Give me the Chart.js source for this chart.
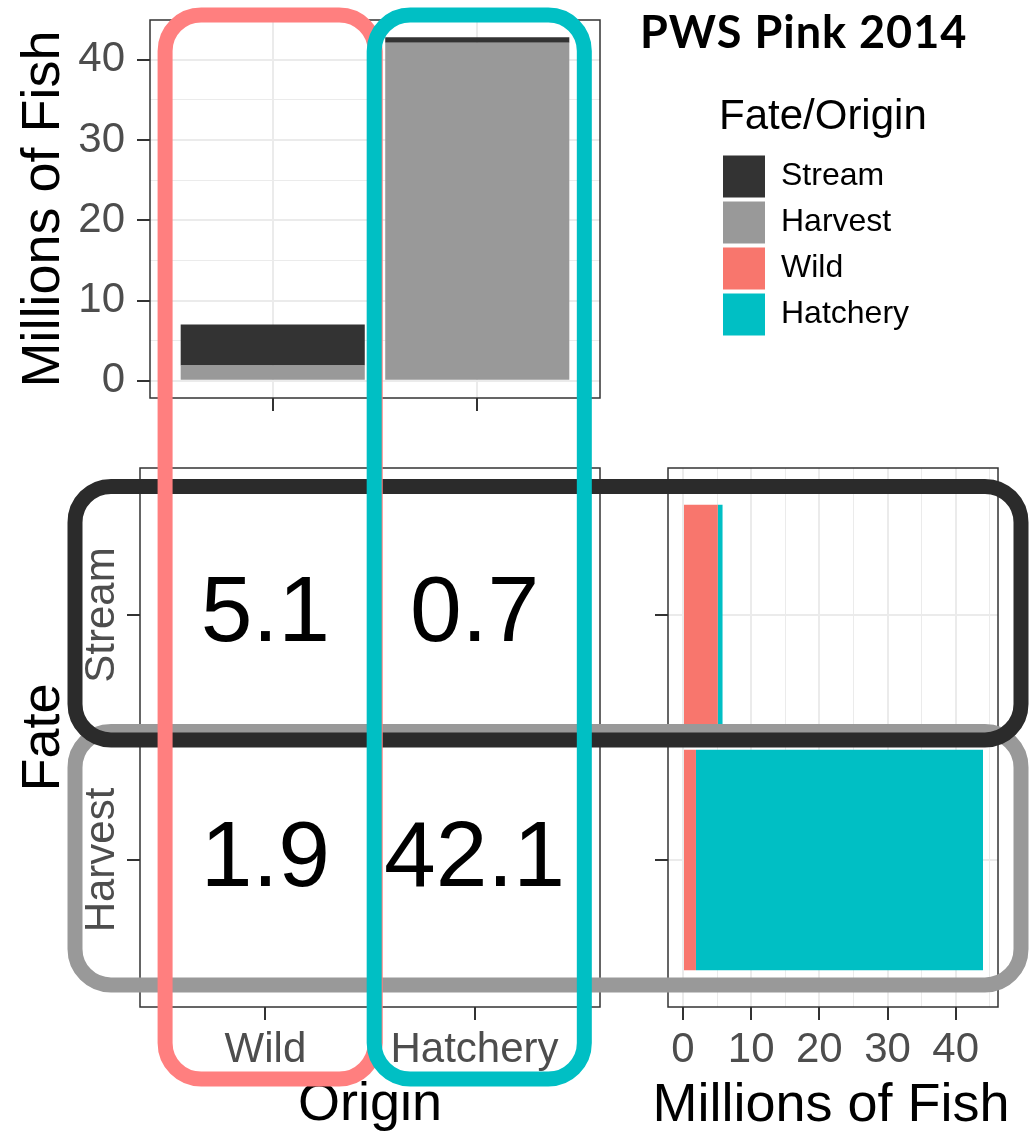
<!DOCTYPE html>
<html>
<head>
<meta charset="utf-8">
<title>PWS Pink 2014</title>
<script src="https://cdn.jsdelivr.net/npm/chart.js@4.4.1/dist/chart.umd.min.js"></script>
<style>
  html, body { margin: 0; padding: 0; background: #fff; }
  #wrap { position: relative; width: 1029px; height: 1133px; overflow: hidden; }
  #wrap canvas { position: absolute; left: 0; top: 0; }
  #mainTitle { position: absolute; left: 640px; top: 9px; font: bold 45px Lato, 'Open Sans', sans-serif; letter-spacing: 1px; line-height: 1; white-space: nowrap; color: #000; }
</style>
</head>
<body>
<div id="wrap">
  <canvas id="legendChart" width="1029" height="1133"></canvas>
  <canvas id="topChart" width="1029" height="1133"></canvas>
  <canvas id="matrixChart" width="1029" height="1133"></canvas>
  <canvas id="sideChart" width="1029" height="1133"></canvas>
  <canvas id="overlay" width="1029" height="1133"></canvas>
  <div id="mainTitle">PWS Pink 2014</div>
</div>
<script>
// values (millions of fish)
const origins = ['Wild', 'Hatchery'];
const fates = ['Stream', 'Harvest'];
const wildByFate = [5.1, 1.9];
const hatcheryByFate = [0.7, 42.1];
const countTicks = [0, 10, 20, 30, 40];
const minorTicks = [5, 15, 25, 35, 45];

const fateColors = ['#333333', '#999999'];
const originColors = ['#F8766D', '#00BFC4'];
const fateRingColors = ['#2b2b2b', '#999999'];
const originRingColors = ['#ff7f7f', '#00bfc4'];

const FONT = "'Liberation Sans', Arial, sans-serif";
const GRID = '#ebebeb';
const INK = '#333333';
const TICK_TEXT = '#4d4d4d';
const W = 1029, H = 1133;

Chart.defaults.font.family = FONT;
Chart.defaults.animation = false;
Chart.defaults.responsive = false;
Chart.defaults.devicePixelRatio = 1;
Chart.defaults.events = [];
Chart.defaults.plugins.legend.display = false;
Chart.defaults.plugins.tooltip.enabled = false;

const byOrigin = [wildByFate, hatcheryByFate];
const fatePos = j => fates.length - j;   // Stream on top, Harvest below
const sum = a => a.reduce((s, v) => s + v, 0);

const originTotals = byOrigin.map(sum);
const fateTotals = fates.map((f, j) => sum(byOrigin.map(o => o[j])));
const topMax = Math.max(...originTotals);
const sideMax = Math.max(...fateTotals);

const isMajor = v => countTicks.includes(v);
const discreteTicks = n => ax => { ax.ticks = Array.from({ length: n }, (_, i) => ({ value: i + 1 })); };
const countTickBuilder = ax => {
  ax.ticks = countTicks.concat(minorTicks)
    .filter(v => v >= ax.min && v <= ax.max)
    .sort((a, b) => a - b)
    .map(v => ({ value: v }));
};
// fixed axis size, and no extra room asked for overhanging labels
const fixWidth = w => ax => { ax.width = w; ax.paddingTop = 0; ax.paddingBottom = 0; };
const fixHeight = h => ax => { ax.height = h; ax.paddingLeft = 0; ax.paddingRight = 0; };

function countGrid(onArea) {
  return {
    drawOnChartArea: onArea,
    color: GRID,
    lineWidth: c => (c.tick && isMajor(c.tick.value) ? 2 : 1),
    tickLength: 13,
    tickWidth: 2,
    tickColor: c => (c.tick && isMajor(c.tick.value) ? INK : 'rgba(0,0,0,0)')
  };
}
function discreteGrid(onArea) {
  return { drawOnChartArea: onArea, offset: false, color: GRID, lineWidth: 2, tickLength: 13, tickWidth: 2, tickColor: INK };
}
const tickFont = { size: 42 };
const titleFont = { size: 54 };

const panelBorder = {
  id: 'panelBorder',
  afterDraw(chart) {
    const { ctx, chartArea: a } = chart;
    ctx.save();
    ctx.strokeStyle = INK;
    ctx.lineWidth = 1.5;
    ctx.strokeRect(a.left, a.top, a.right - a.left, a.bottom - a.top);
    ctx.restore();
  }
};

// top: stacked bars by origin
const topChart = new Chart(document.getElementById('topChart'), {
  type: 'bar',
  data: {
    datasets: fates.map((fate, f) => ({
      label: fate,
      data: origins.map((o, i) => ({ x: i + 1, y: byOrigin[i][f] })),
      backgroundColor: fateColors[f],
      borderWidth: 0,
      stack: 'all',
      barPercentage: 0.9,
      categoryPercentage: 1
    })).reverse()
  },
  options: {
    layout: { padding: { left: 0, top: 20, right: W - 600, bottom: H - 398 - 20 } },
    scales: {
      x: {
        type: 'linear', offset: false, min: 0.4, max: origins.length + 0.6, bounds: 'data',
        afterBuildTicks: discreteTicks(origins.length),
        afterFit: fixHeight(20),
        ticks: { display: false },
        grid: discreteGrid(true),
        border: { display: false }
      },
      y: {
        type: 'linear', stacked: true, min: -0.05 * topMax, max: 1.05 * topMax, bounds: 'data',
        afterBuildTicks: countTickBuilder,
        afterFit: fixWidth(150),
        ticks: { autoSkip: false, padding: 12, color: TICK_TEXT, font: tickFont, callback: v => (isMajor(v) ? String(v) : '') },
        grid: countGrid(true),
        border: { display: false },
        title: { display: true, text: 'Millions of Fish', color: '#000', font: titleFont, padding: { top: 12, bottom: 0 } }
      }
    }
  },
  plugins: [panelBorder]
});

// middle: value table origin x fate
const cellText = {
  id: 'cellText',
  afterDatasetsDraw(chart) {
    const ctx = chart.ctx;
    const ds = chart.data.datasets[0];
    ctx.save();
    ctx.font = '93px ' + FONT;
    ctx.fillStyle = '#000';
    ctx.textAlign = 'center';
    ctx.textBaseline = 'middle';
    chart.getDatasetMeta(0).data.forEach((pt, k) => {
      ctx.fillText(ds.data[k].v.toFixed(1), pt.x, pt.y);
    });
    ctx.restore();
  }
};

const cells = [];
origins.forEach((o, i) => fates.forEach((f, j) => cells.push({ x: i + 1, y: fatePos(j), v: byOrigin[i][j] })));

const matrixChart = new Chart(document.getElementById('matrixChart'), {
  type: 'scatter',
  data: { datasets: [{ data: cells, pointRadius: 0 }] },
  options: {
    layout: { padding: { left: 0, top: 468, right: W - 600, bottom: 0 } },
    scales: {
      x: {
        type: 'linear', min: 0.4, max: origins.length + 0.6, bounds: 'data',
        afterBuildTicks: discreteTicks(origins.length),
        afterFit: fixHeight(H - 1007),
        ticks: { autoSkip: false, padding: 5, color: TICK_TEXT, font: tickFont, callback: v => origins[v - 1] },
        grid: discreteGrid(false),
        border: { display: false },
        title: { display: true, text: 'Origin', color: '#000', font: titleFont, padding: { top: 0, bottom: -5 } }
      },
      y: {
        type: 'linear', min: 0.4, max: fates.length + 0.6, bounds: 'data',
        afterBuildTicks: discreteTicks(fates.length),
        afterFit: fixWidth(140),
        ticks: { autoSkip: false, minRotation: 90, maxRotation: 90, crossAlign: 'center', padding: -48, color: TICK_TEXT, font: tickFont, callback: v => fates[fates.length - v] },
        grid: discreteGrid(false),
        border: { display: false },
        title: { display: true, text: 'Fate', color: '#000', font: titleFont, padding: { top: 12, bottom: 0 } }
      }
    }
  },
  plugins: [panelBorder, cellText]
});

// right: stacked horizontal bars by fate
const sideTitleHeight = titleFont.size * 1.2 - 5.4;
const sideChart = new Chart(document.getElementById('sideChart'), {
  type: 'bar',
  data: {
    datasets: origins.map((o, i) => ({
      label: o,
      data: fates.map((f, j) => ({ x: byOrigin[i][j], y: fatePos(j) })),
      backgroundColor: originColors[i],
      borderWidth: 0,
      stack: 'all',
      yAxisID: 'y',
      barPercentage: 0.9,
      categoryPercentage: 1
    }))
  },
  options: {
    indexAxis: 'y',
    layout: { padding: { left: 633, top: 468, right: 0, bottom: 0 } },
    scales: {
      x: {
        type: 'linear', stacked: true, min: -0.05 * sideMax, max: 1.05 * sideMax, bounds: 'data',
        afterBuildTicks: countTickBuilder,
        afterFit: fixHeight(H - 1007 - sideTitleHeight),
        ticks: { autoSkip: false, maxRotation: 0, padding: 5, color: TICK_TEXT, font: tickFont, callback: v => (isMajor(v) ? String(v) : '') },
        grid: countGrid(true),
        border: { display: false }
      },
      y: {
        type: 'linear', offset: false, min: 0.4, max: fates.length + 0.6, bounds: 'data',
        afterBuildTicks: discreteTicks(fates.length),
        afterFit: fixWidth(35),
        ticks: { display: false },
        grid: discreteGrid(true),
        border: { display: false }
      },
      yRight: {
        axis: 'y', type: 'linear', position: 'right',
        afterFit: fixWidth(31),
        ticks: { display: false },
        grid: { display: false },
        border: { display: false }
      }
    },
    plugins: {
      title: { display: true, position: 'bottom', fullSize: true, text: 'Millions of Fish', color: '#000', font: { size: titleFont.size, weight: 'normal' }, padding: { top: 0, bottom: -5.4 } }
    }
  },
  plugins: [panelBorder]
});

// legend (fill colours of both fate and origin)
new Chart(document.getElementById('legendChart'), {
  type: 'bar',
  data: {
    labels: [],
    datasets: fates.map((f, i) => ({ label: f, data: [], backgroundColor: fateColors[i], borderWidth: 0 }))
      .concat(origins.map((o, i) => ({ label: o, data: [], backgroundColor: originColors[i], borderWidth: 0 })))
  },
  options: {
    layout: { padding: { left: 719, top: 91, right: W - 719 - 230, bottom: 0 } },
    scales: { x: { display: false }, y: { display: false } },
    plugins: {
      legend: {
        display: true, position: 'top', align: 'start',
        title: { display: true, text: 'Fate/Origin', color: '#000', font: { size: 42 }, padding: { top: 5, bottom: 5 }, position: 'start' },
        labels: { boxWidth: 42, boxHeight: 42, padding: 4, color: '#000', font: { size: 32 } }
      }
    }
  }
});

// highlight rings around rows and columns
const ov = document.getElementById('overlay').getContext('2d');
function ring(x0, y0, x1, y1, color) {
  ov.beginPath();
  ov.roundRect(x0, y0, x1 - x0, y1 - y0, 36);
  ov.strokeStyle = color;
  ov.lineWidth = 15;
  ov.stroke();
}
const mx = matrixChart.scales.x, my = matrixChart.scales.y;
const colTop = topChart.chartArea.top - 5;
const colBottom = matrixChart.chartArea.bottom + 72;
const rowLeft = matrixChart.chartArea.left - 65;
const rowRight = sideChart.chartArea.right + 23;
for (let j = fates.length - 1; j >= 0; j--) {
  ring(rowLeft, my.getPixelForValue(fatePos(j) + 0.525), rowRight, my.getPixelForValue(fatePos(j) - 0.51), fateRingColors[j]);
}
origins.forEach((o, i) => {
  ring(mx.getPixelForValue(i + 1 - 0.48), colTop, mx.getPixelForValue(i + 1 + 0.525), colBottom, originRingColors[i]);
});
</script>
</body>
</html>
